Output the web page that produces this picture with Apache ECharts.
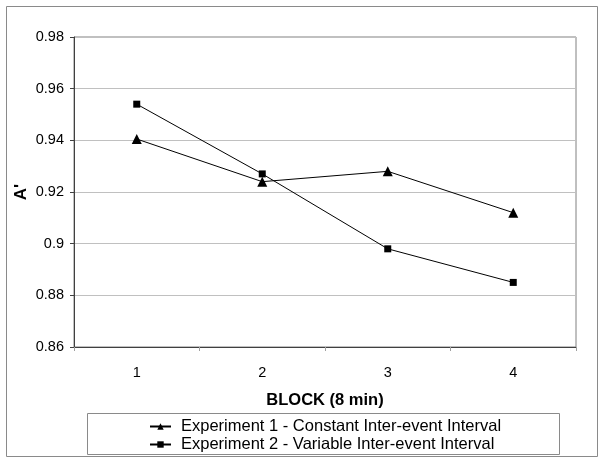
<!DOCTYPE html>
<html>
<head>
<meta charset="utf-8">
<script src="https://cdn.jsdelivr.net/npm/echarts@6/dist/echarts.min.js"></script>
<style>html,body{margin:0;padding:0;background:#fff}#c{width:603px;height:463px}</style>
</head>
<body>
<div id="c"></div>
<script>
const categories = ['1', '2', '3', '4'];
const exp1Name = 'Experiment 1 - Constant Inter-event Interval';
const exp2Name = 'Experiment 2 - Variable Inter-event Interval';
const exp1Values = [0.9405, 0.924, 0.928, 0.912];
const exp2Values = [0.954, 0.927, 0.898, 0.885];
const yTicks = { min: 0.86, max: 0.98, interval: 0.02 };

const chart = echarts.init(document.getElementById('c'), null, { renderer: 'canvas' });
const font = 'Arial, "Liberation Sans", sans-serif';
chart.setOption({
  animation: false,
  backgroundColor: '#fff',
  textStyle: { fontFamily: font },
  graphic: [
    { type: 'rect', shape: { x: 6.5, y: 6.5, width: 591, height: 450 }, style: { fill: 'none', stroke: '#8a8a8a', lineWidth: 1 }, z: 0 },
    { type: 'rect', shape: { x: 87.5, y: 413.5, width: 472, height: 41 }, style: { fill: 'none', stroke: '#8a8a8a', lineWidth: 1 }, z: 0 }
  ],
  grid: { left: 74, right: 27, top: 37, bottom: 116, show: true, borderColor: '#808080', borderWidth: 1 },
  legend: {
    orient: 'vertical', left: 144, top: 413, itemGap: 1, itemWidth: 21, itemHeight: 8,
    textStyle: { fontSize: 16.5, color: '#000', fontFamily: font, padding: [0, 0, 0, 5] },
    data: [exp1Name, exp2Name]
  },
  xAxis: {
    type: 'category', data: categories, boundaryGap: true,
    name: 'BLOCK (8 min)', nameLocation: 'middle', nameGap: 45,
    nameTextStyle: { fontSize: 16.5, fontWeight: 'bold', color: '#000' },
    axisLine: { lineStyle: { color: '#404040', width: 1 } },
    axisTick: { show: true, length: 4, lineStyle: { color: '#a0a0a0' } },
    axisLabel: { fontSize: 14.5, color: '#000', margin: 18 }
  },
  yAxis: {
    type: 'value', min: yTicks.min, max: yTicks.max, interval: yTicks.interval,
    name: "A'", nameLocation: 'middle', nameGap: 44, nameRotate: 90, nameMoveOverlap: false,
    nameTextStyle: { fontSize: 17, fontWeight: 'bold', color: '#000' },
    axisLine: { show: true, lineStyle: { color: '#404040', width: 1 } },
    axisTick: { show: true, length: 4, lineStyle: { color: '#404040' } },
    axisLabel: { fontSize: 14.5, color: '#000', margin: 10, formatter: v => String(+v.toFixed(2)) },
    splitLine: { show: true, lineStyle: { color: '#c0c0c0', width: 1 } }
  },
  series: [
    { name: exp1Name, type: 'line', data: exp1Values, symbol: 'triangle', symbolSize: 10,
      lineStyle: { color: '#000', width: 1 }, itemStyle: { color: '#000' } },
    { name: exp2Name, type: 'line', data: exp2Values, symbol: 'rect', symbolSize: 7,
      lineStyle: { color: '#000', width: 1 }, itemStyle: { color: '#000' } }
  ]
});
</script>
</body>
</html>
